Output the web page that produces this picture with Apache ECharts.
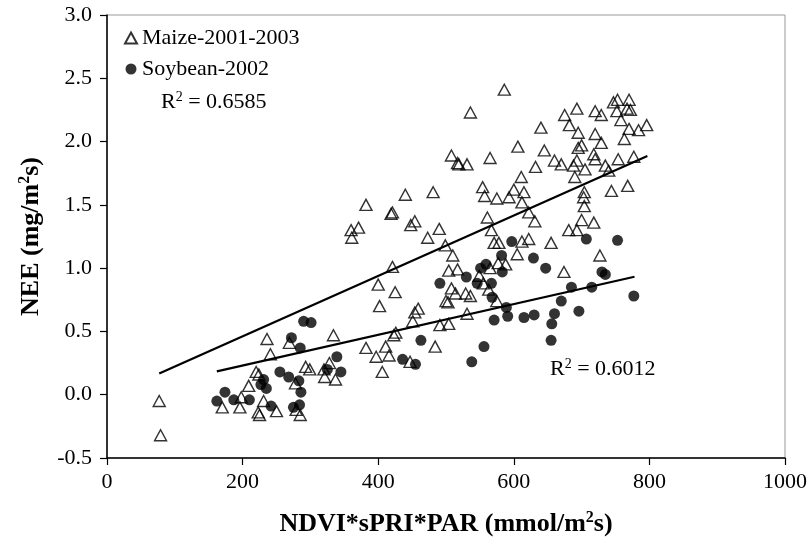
<!DOCTYPE html>
<html>
<head>
<meta charset="utf-8">
<script src="https://cdn.jsdelivr.net/npm/echarts@6/dist/echarts.min.js"></script>
<style>
  html, body { margin: 0; padding: 0; background: #fff; }
  #chart { width: 810px; height: 548px; }
</style>
</head>
<body>
<div id="chart"></div>
<script>
// NEE versus NDVI*sPRI*PAR for maize (2001-2003) and soybean (2002)
const maizePoints = [
  [77,-0.05],[79,-0.32],[170,-0.10],[196,-0.10],[198,-0.02],[209,0.07],[220,0.18],[224,0.16],
  [223,-0.14],[225,-0.16],[231,-0.05],[250,-0.13],[236,0.44],[241,0.32],[269,0.41],[278,0.09],
  [279,-0.12],[285,-0.16],[293,0.22],[299,0.20],[320,0.20],[328,0.25],[321,0.14],[337,0.12],[334,0.47],
  [360,1.30],[371,1.32],[361,1.24],[382,1.50],[419,1.43],[421,1.44],[440,1.58],[448,1.34],[454,1.37],
  [473,1.24],[481,1.60],[490,1.31],[421,1.01],[400,0.87],[425,0.81],[402,0.70],[459,0.68],[454,0.65],
  [451,0.58],[423,0.47],[426,0.49],[382,0.37],[411,0.38],[397,0.30],[416,0.31],[406,0.18],[447,0.26],
  [484,0.38],[491,0.55],[504,0.56],[531,0.64],
  [499,1.18],[510,1.10],[504,0.98],[517,0.99],[508,0.84],[500,0.74],[503,0.73],[514,0.80],[529,0.80],
  [536,0.78],[508,1.89],[517,1.83],[531,1.82],[519,1.82],[536,2.23],[586,2.41],[565,1.87],[554,1.64],
  [557,1.57],[575,1.55],[593,1.56],[600,1.62],[615,1.60],[612,1.52],[622,1.44],[631,1.37],[561,1.40],
  [567,1.30],[606,1.96],[611,1.72],[632,1.80],[645,1.93],[640,2.11],[660,1.85],[670,1.82],[571,1.20],
  [578,1.20],[612,1.21],[622,1.23],[655,1.20],[605,1.11],[577,1.04],[588,1.03],[549,0.94],[565,1.00],
  [555,0.88],[563,0.83],[575,0.74],
  [681,1.30],[693,1.30],[700,1.38],[718,1.36],[727,1.10],[674,0.97],[704,1.60],[703,1.56],[704,1.49],
  [744,1.61],[768,1.65],[675,2.21],[693,2.26],[720,2.24],[729,2.21],[682,2.13],[695,2.07],[720,2.06],
  [729,1.99],[700,1.97],[695,1.95],[747,2.31],[753,2.33],[770,2.33],[752,2.24],[767,2.26],[772,2.25],
  [758,2.17],[770,2.10],[784,2.09],[796,2.13],[763,2.02],[718,1.90],[720,1.86],[754,1.86],[777,1.88],
  [735,1.81],[740,1.77],[693,1.85],[688,1.81],[705,1.78],[690,1.72]
];

const soyPoints = [
  [162,-0.05],[174,0.02],[187,-0.04],[210,-0.04],[231,0.12],[227,0.08],[235,0.05],[242,-0.09],
  [255,0.18],[268,0.14],[272,0.45],[275,-0.10],[284,-0.08],[283,0.11],[286,0.02],[285,0.37],
  [290,0.58],[301,0.57],[325,0.20],[339,0.30],[345,0.18],[436,0.28],[455,0.24],[463,0.43],
  [491,0.88],[530,0.93],[538,0.26],[556,0.38],[546,0.88],[551,1.00],[559,1.03],[567,0.88],
  [568,0.77],[582,1.10],[583,0.97],[597,1.21],[589,0.69],[591,0.62],[571,0.59],[615,0.61],
  [707,1.23],[753,1.22],[629,1.08],[647,1.00],[630,0.63],[660,0.64],[656,0.56],[655,0.43],
  [670,0.74],[696,0.66],[685,0.85],[715,0.85],[730,0.97],[735,0.95],[777,0.78]
];

// linear fits: [slope, intercept], drawn across [xStart, xEnd]
const maizeFit = [0.002385, -0.0156];
const maizeFitRange = [77, 797];
const soyFit = [0.001215, -0.013];
const soyFitRange = [162, 778];

const xTicks = [0, 1000, 200];      // min, max, interval
const yTicks = [-0.5, 3.0, 0.5];

const seriesNames = ['Maize-2001-2003', 'Soybean-2002'];
const r2Labels = ['0.6585', '0.6012'];

const fitLine = (coef, range) => range.map(x => [x, coef[0] * x + coef[1]]);

const SERIF = "'Liberation Serif', 'Times New Roman', serif";

const chart = echarts.init(document.getElementById('chart'), null, { renderer: 'canvas' });

const supRich = (size, bold) => ({
  sup: {
    fontFamily: SERIF, fontSize: size, fontWeight: bold ? 'bold' : 'normal', color: '#000',
    verticalAlign: 'bottom', padding: [0, 0, Math.round(size * 0.75), 0]
  }
});

chart.setOption({
  animation: false,
  backgroundColor: '#fff',
  grid: {
    left: 107, right: 23, top: 15, bottom: 90,
    show: true, borderColor: '#999', borderWidth: 1, backgroundColor: 'transparent'
  },
  legend: {
    data: seriesNames,
    orient: 'vertical',
    left: 119, top: 21,
    itemWidth: 12, itemHeight: 11, itemGap: 7,
    textStyle: { fontFamily: SERIF, fontSize: 22, color: '#000', lineHeight: 24 }
  },
  xAxis: {
    type: 'value',
    min: xTicks[0], max: xTicks[1], interval: xTicks[2],
    axisLine: { onZero: false, lineStyle: { color: '#000', width: 1.5 } },
    axisTick: { show: true, inside: false, length: 7, lineStyle: { color: '#000', width: 1.2 } },
    splitLine: { show: false },
    axisLabel: { fontFamily: SERIF, fontSize: 22, color: '#000', margin: 13, formatter: v => String(v) },
    name: 'NDVI*sPRI*PAR (mmol/m{sup|2}s)',
    nameLocation: 'middle', nameGap: 52,
    nameTextStyle: {
      fontFamily: SERIF, fontSize: 26, fontWeight: 'bold', color: '#000',
      rich: supRich(16, true)
    }
  },
  yAxis: {
    type: 'value',
    min: yTicks[0], max: yTicks[1], interval: yTicks[2],
    axisLine: { show: true, onZero: false, lineStyle: { color: '#000', width: 1.5 } },
    axisTick: { show: true, inside: false, length: 7, lineStyle: { color: '#000', width: 1.2 } },
    splitLine: { show: false },
    axisLabel: {
      fontFamily: SERIF, fontSize: 22, color: '#000', margin: 15,
      formatter: v => v.toFixed(1)
    },
    name: 'NEE (mg/m{sup|2}s)',
    nameLocation: 'middle', nameGap: 62,
    nameTextStyle: {
      fontFamily: SERIF, fontSize: 26, fontWeight: 'bold', color: '#000',
      rich: supRich(16, true)
    }
  },
  series: [
    {
      name: seriesNames[0],
      type: 'scatter',
      data: maizePoints,
      symbol: 'triangle',
      symbolSize: [12, 11],
      itemStyle: { color: 'rgba(255,255,255,0)', borderColor: '#000', borderWidth: 1.4 },
      z: 2
    },
    {
      name: seriesNames[1],
      type: 'scatter',
      data: soyPoints,
      symbol: 'circle',
      symbolSize: 11,
      itemStyle: { color: '#000' },
      z: 3
    },
    {
      name: 'maize fit',
      type: 'line',
      data: fitLine(maizeFit, maizeFitRange),
      symbol: 'none',
      lineStyle: { color: '#000', width: 2.2 },
      z: 4
    },
    {
      name: 'soybean fit',
      type: 'line',
      data: fitLine(soyFit, soyFitRange),
      symbol: 'none',
      lineStyle: { color: '#000', width: 2.2 },
      z: 4
    }
  ],
  graphic: [
    {
      type: 'text', left: 161, top: 90, z: 10,
      style: {
        text: 'R{sup|2} = ' + r2Labels[0],
        fontFamily: SERIF, fontSize: 22, fill: '#000',
        rich: supRich(14, false)
      }
    },
    {
      type: 'text', left: 550, top: 357, z: 10,
      style: {
        text: 'R{sup|2} = ' + r2Labels[1],
        fontFamily: SERIF, fontSize: 22, fill: '#000',
        rich: supRich(14, false)
      }
    }
  ]
});
</script>
</body>
</html>
